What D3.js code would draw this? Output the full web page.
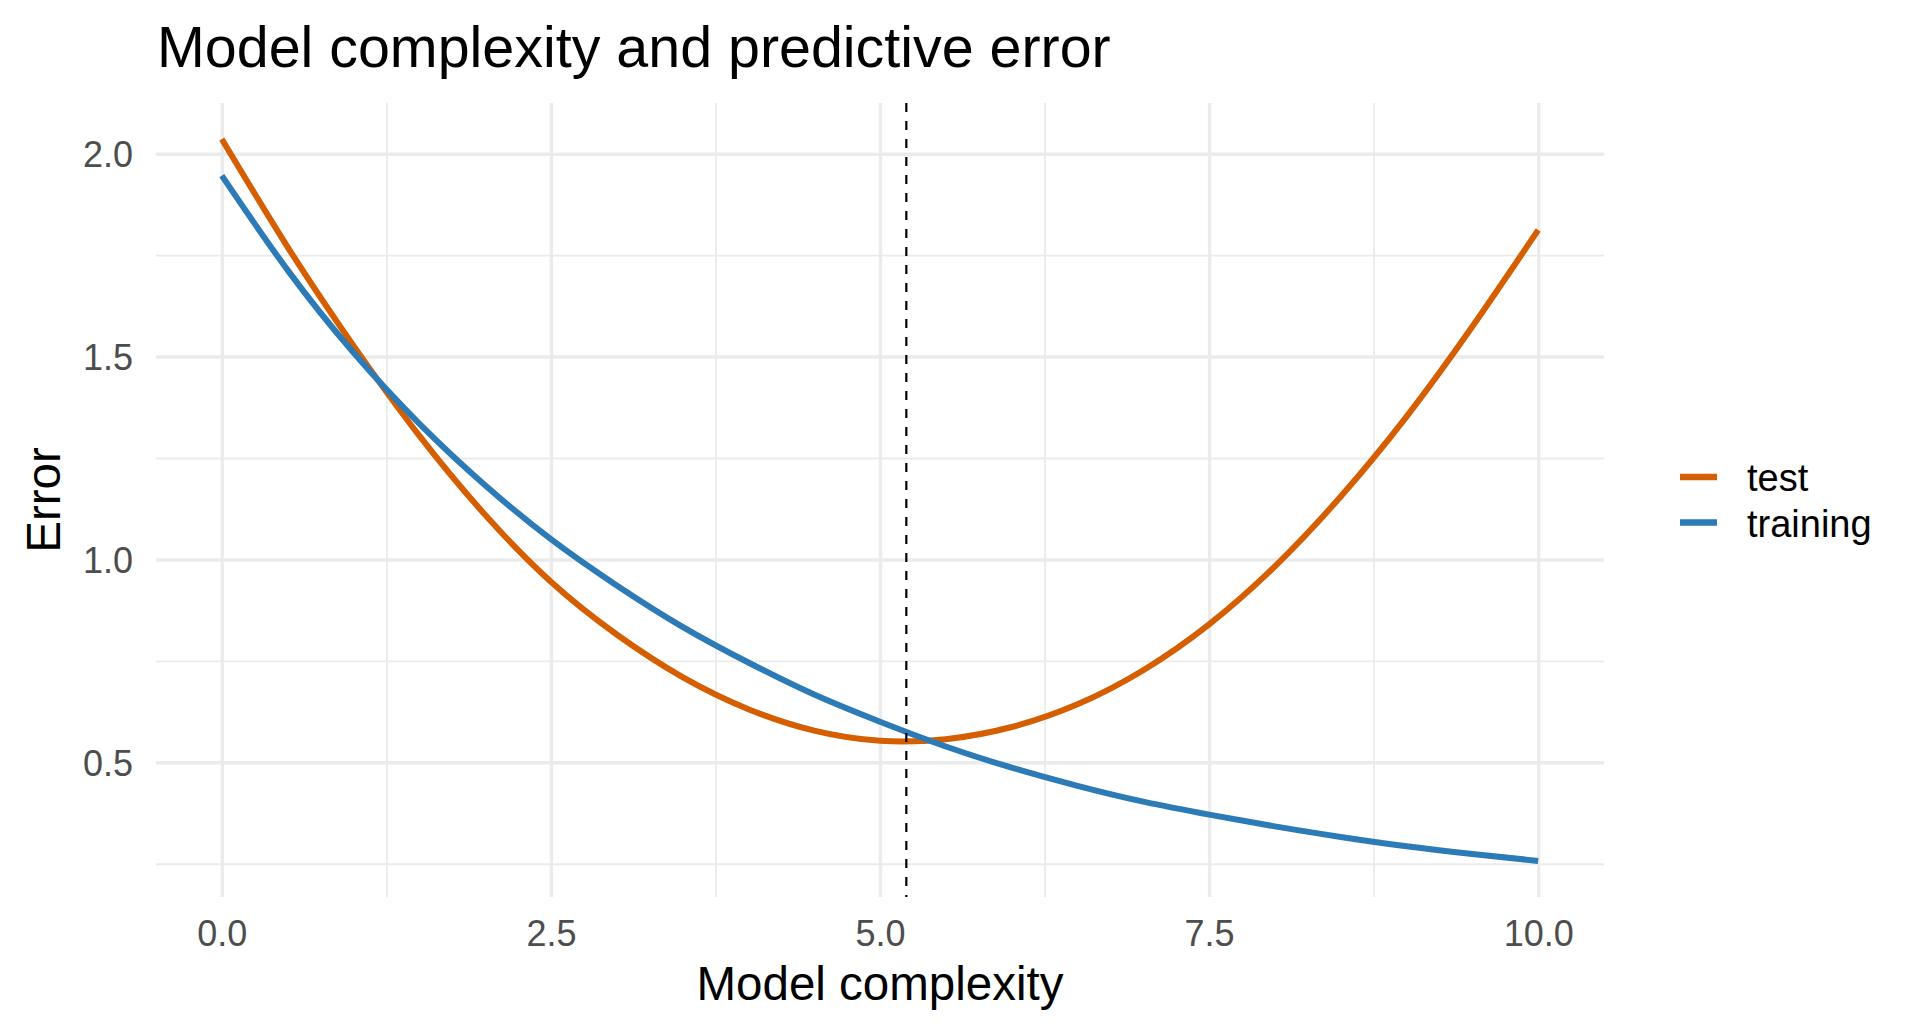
<!DOCTYPE html>
<html>
<head>
<meta charset="utf-8">
<script src="https://cdn.jsdelivr.net/npm/d3@7"></script>
<style>
  html, body { margin: 0; padding: 0; background: #fff; }
  svg { display: block; font-family: "Liberation Sans", Arial, sans-serif; }
</style>
</head>
<body>
<div id="chart"></div>
<script>
// values
const complexity = [0, 0.5, 1, 1.5, 2, 2.5, 3, 3.5, 4, 4.5, 5, 5.5, 6, 6.5, 7, 7.5, 8, 8.5, 9, 9.5, 10];
const testError = [2.036, 1.770, 1.527, 1.305, 1.110, 0.945, 0.815, 0.710, 0.631, 0.578, 0.553,
                   0.557, 0.587, 0.643, 0.727, 0.840, 0.983, 1.155, 1.352, 1.574, 1.812];
const trainingError = [1.946, 1.713, 1.510, 1.335, 1.183, 1.050, 0.936, 0.834, 0.746, 0.667, 0.600,
                       0.539, 0.487, 0.442, 0.403, 0.371, 0.342, 0.316, 0.293, 0.274, 0.257];
const seriesNames = ["test", "training"];
const seriesColors = ["#D55E00", "#2C7BB6"];
const optimum = 5.2;
const xTicks = [0, 2.5, 5, 7.5, 10];
const xMinor = [1.25, 3.75, 6.25, 8.75];
const yTicks = [0.5, 1.0, 1.5, 2.0];
const yMinor = [0.25, 0.75, 1.25, 1.75];

const W = 1920, H = 1036;
const margin = { top: 103, right: 316, bottom: 139, left: 156 };
const width = W - margin.left - margin.right;
const height = H - margin.top - margin.bottom;

const series = seriesNames.map((name, i) => ({
    name,
    color: seriesColors[i],
    values: complexity.map((x, j) => ({ x, y: (i === 0 ? testError : trainingError)[j] }))
}));

const svg = d3.select("#chart")
    .append("svg")
    .attr("width", W)
    .attr("height", H);

const g = svg.append("g")
    .attr("transform", `translate(${margin.left},${margin.top})`);

// ggplot style 5% expansion
const xExt = d3.extent(complexity);
const xPad = (xExt[1] - xExt[0]) * 0.05;
const allY = testError.concat(trainingError);
const yExt = d3.extent(allY);
const yPad = (yExt[1] - yExt[0]) * 0.05;

const x = d3.scaleLinear()
    .domain([xExt[0] - xPad, xExt[1] + xPad])
    .range([0, width]);

const y = d3.scaleLinear()
    .domain([yExt[0] - yPad, yExt[1] + yPad])
    .range([height, 0]);

// minor grid
g.append("g")
    .attr("class", "grid-minor")
    .call(d3.axisBottom(x).tickValues(xMinor).tickSize(height).tickFormat(""))
    .call(a => a.select(".domain").remove())
    .selectAll("line").attr("stroke", "#EBEBEB").attr("stroke-width", 1.8);

g.append("g")
    .attr("class", "grid-minor")
    .call(d3.axisLeft(y).tickValues(yMinor).tickSize(-width).tickFormat(""))
    .call(a => a.select(".domain").remove())
    .selectAll("line").attr("stroke", "#EBEBEB").attr("stroke-width", 1.8);

// major grid
g.append("g")
    .attr("class", "grid-major")
    .call(d3.axisBottom(x).tickValues(xTicks).tickSize(height).tickFormat(""))
    .call(a => a.select(".domain").remove())
    .selectAll("line").attr("stroke", "#EBEBEB").attr("stroke-width", 3.4);

g.append("g")
    .attr("class", "grid-major")
    .call(d3.axisLeft(y).tickValues(yTicks).tickSize(-width).tickFormat(""))
    .call(a => a.select(".domain").remove())
    .selectAll("line").attr("stroke", "#EBEBEB").attr("stroke-width", 3.4);

// axis labels
const xAxis = g.append("g")
    .attr("class", "x-axis")
    .attr("transform", `translate(0,${height})`)
    .call(d3.axisBottom(x).tickValues(xTicks).tickSize(0).tickPadding(0).tickFormat(d3.format(".1f")));
xAxis.select(".domain").remove();
xAxis.selectAll("text")
    .attr("y", 49)
    .attr("dy", null)
    .attr("fill", "#4D4D4D")
    .style("font-size", "36px");

const yAxis = g.append("g")
    .attr("class", "y-axis")
    .call(d3.axisLeft(y).tickValues(yTicks).tickSize(0).tickPadding(0).tickFormat(d3.format(".1f")));
yAxis.select(".domain").remove();
yAxis.selectAll("text")
    .attr("x", -23)
    .attr("dy", "0.36em")
    .attr("fill", "#4D4D4D")
    .style("font-size", "36px");

// curves
const line = d3.line()
    .x(d => x(d.x))
    .y(d => y(d.y))
    .curve(d3.curveNatural);

g.selectAll(".series")
    .data(series)
    .enter()
    .append("path")
    .attr("class", "series")
    .attr("d", d => line(d.values))
    .attr("fill", "none")
    .attr("stroke", d => d.color)
    .attr("stroke-width", 6)
    .attr("stroke-linejoin", "round");

// optimum marker
g.append("line")
    .attr("x1", x(optimum))
    .attr("x2", x(optimum))
    .attr("y1", 0)
    .attr("y2", height)
    .attr("stroke", "#000")
    .attr("stroke-width", 2.2)
    .attr("stroke-dasharray", "9,9");

// axis titles
svg.append("text")
    .attr("x", margin.left + width / 2)
    .attr("y", 1000)
    .attr("text-anchor", "middle")
    .style("font-size", "47.5px")
    .text("Model complexity");

svg.append("text")
    .attr("transform", `translate(60,${margin.top + height / 2}) rotate(-90)`)
    .attr("text-anchor", "middle")
    .style("font-size", "47.5px")
    .text("Error");

// title
svg.append("text")
    .attr("x", 157)
    .attr("y", 67)
    .style("font-size", "57.4px")
    .text("Model complexity and predictive error");

// legend
const legend = svg.append("g")
    .attr("transform", "translate(1680,477)");

const item = legend.selectAll(".item")
    .data(series)
    .enter()
    .append("g")
    .attr("class", "item")
    .attr("transform", (d, i) => `translate(0,${i * 45.5})`);

item.append("line")
    .attr("x1", 0)
    .attr("x2", 37)
    .attr("stroke", d => d.color)
    .attr("stroke-width", 6.5);

item.append("text")
    .attr("x", 67)
    .attr("y", 14)
    .style("font-size", "38px")
    .text(d => d.name);
</script>
</body>
</html>
